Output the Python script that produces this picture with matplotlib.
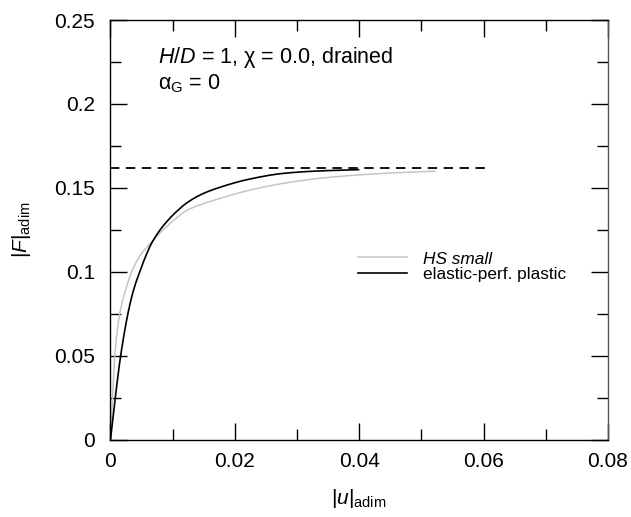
import numpy as np
import matplotlib
matplotlib.use("Agg")
import matplotlib.pyplot as plt
from matplotlib.ticker import MultipleLocator

plt.rcParams['font.family'] = ['Liberation Sans', 'DejaVu Sans']
plt.rcParams['mathtext.fontset'] = 'custom'
plt.rcParams['mathtext.rm'] = 'Liberation Sans'
plt.rcParams['mathtext.it'] = 'Liberation Sans:italic'
plt.rcParams['mathtext.bf'] = 'Liberation Sans:bold'

# Force-displacement curves (dimensionless)
u_hs = [0, 0.00035, 0.0007, 0.0015, 0.0025, 0.0034, 0.0050, 0.0063, 0.0085,
        0.0101, 0.0122, 0.0171, 0.0225, 0.0278, 0.0332, 0.0385, 0.0439, 0.0522]
F_hs = [0, 0.025, 0.05, 0.075, 0.09, 0.1, 0.111, 0.1165, 0.1252,
        0.1305, 0.1365, 0.1432, 0.1488, 0.1528, 0.1556, 0.1574, 0.1587, 0.1600]

u_epp = [0, 0.00077, 0.00164, 0.0028, 0.0037, 0.0047, 0.0058, 0.0066, 0.0079,
         0.0093, 0.0109, 0.0122, 0.0144, 0.0171, 0.0225, 0.0278, 0.0332, 0.0399]
F_epp = [0, 0.025, 0.05, 0.075, 0.089, 0.1, 0.1105, 0.117, 0.1246,
         0.131, 0.1369, 0.1409, 0.1458, 0.1498, 0.1554, 0.1587, 0.1601, 0.1609]

# Limit load
F_lim = 0.162
u_lim_range = [0, 0.0605]


def pchip(x, y, xn):
    """Monotone cubic interpolation through the tabulated points."""
    x = np.asarray(x, float)
    y = np.asarray(y, float)
    h = np.diff(x)
    d = np.diff(y) / h
    m = np.zeros_like(y)
    for k in range(1, len(x) - 1):
        if d[k - 1] * d[k] > 0:
            w1 = 2 * h[k] + h[k - 1]
            w2 = h[k] + 2 * h[k - 1]
            m[k] = (w1 + w2) / (w1 / d[k - 1] + w2 / d[k])
    m[0] = d[0]
    m[-1] = d[-1]
    idx = np.clip(np.searchsorted(x, xn) - 1, 0, len(h) - 1)
    t = (xn - x[idx]) / h[idx]
    h00 = 2 * t**3 - 3 * t**2 + 1
    h10 = t**3 - 2 * t**2 + t
    h01 = -2 * t**3 + 3 * t**2
    h11 = t**3 - t**2
    return (h00 * y[idx] + h10 * h[idx] * m[idx]
            + h01 * y[idx + 1] + h11 * h[idx] * m[idx + 1])


fig = plt.figure(figsize=(6.31, 5.17), dpi=100)
ax = fig.add_axes([0.175, 0.149, 0.7885, 0.8123])

uu = np.linspace(u_hs[0], u_hs[-1], 800)
ax.plot(uu, pchip(u_hs, F_hs, uu), color='#c4c4c4', lw=1.1, label='HS small')
uu = np.linspace(u_epp[0], u_epp[-1], 800)
ax.plot(uu, pchip(u_epp, F_epp, uu), color='black', lw=1.2,
        label='elastic-perf. plastic')
ax.plot(u_lim_range, [F_lim, F_lim], color='black', lw=1.3,
        dashes=(5.2, 3.6))

ax.set_xlim(0, 0.08)
ax.set_ylim(0, 0.25)
ax.xaxis.set_minor_locator(MultipleLocator(0.01))
ax.yaxis.set_minor_locator(MultipleLocator(0.025))
ax.set_xticks([0, 0.02, 0.04, 0.06, 0.08])
ax.set_xticklabels(['0', '0.02', '0.04', '0.06', '0.08'])
ax.set_yticks([0, 0.05, 0.1, 0.15, 0.2, 0.25])
ax.set_yticklabels(['0', '0.05', '0.1', '0.15', '0.2', '0.25'])

ax.tick_params(which='both', direction='in', top=True, right=True,
               width=1.0, labelsize=15)
ax.tick_params(which='major', length=12, pad=9)
ax.tick_params(which='minor', length=8)
ax.tick_params(axis='y', which='major', pad=11)
for s in ax.spines.values():
    s.set_linewidth(1.0)
ax.spines['right'].set_color('#555555')

ax.set_xlabel(r'$\mathrm{|}u\mathrm{|}_{\mathrm{adim}}$', fontsize=15, labelpad=11)
ax.set_ylabel(r'$\mathrm{|}F\mathrm{|}_{\mathrm{adim}}$', fontsize=15, labelpad=15)

ax.text(0.0076, 0.2242, r'$H/D$ = 1, χ = 0.0, drained', fontsize=15.5,
        va='baseline', ha='left')
ax.text(0.0076, 0.2087, r'α$_{\mathrm{G}}$ = 0', fontsize=15.5,
        va='baseline', ha='left')

leg = ax.legend(loc='center left', bbox_to_anchor=(0.466, 0.412), frameon=False,
                fontsize=12.4, handlelength=2.85, handletextpad=0.93,
                labelspacing=0.05)
leg.get_texts()[0].set_style('italic')

fig.savefig('out.png', dpi=100)
